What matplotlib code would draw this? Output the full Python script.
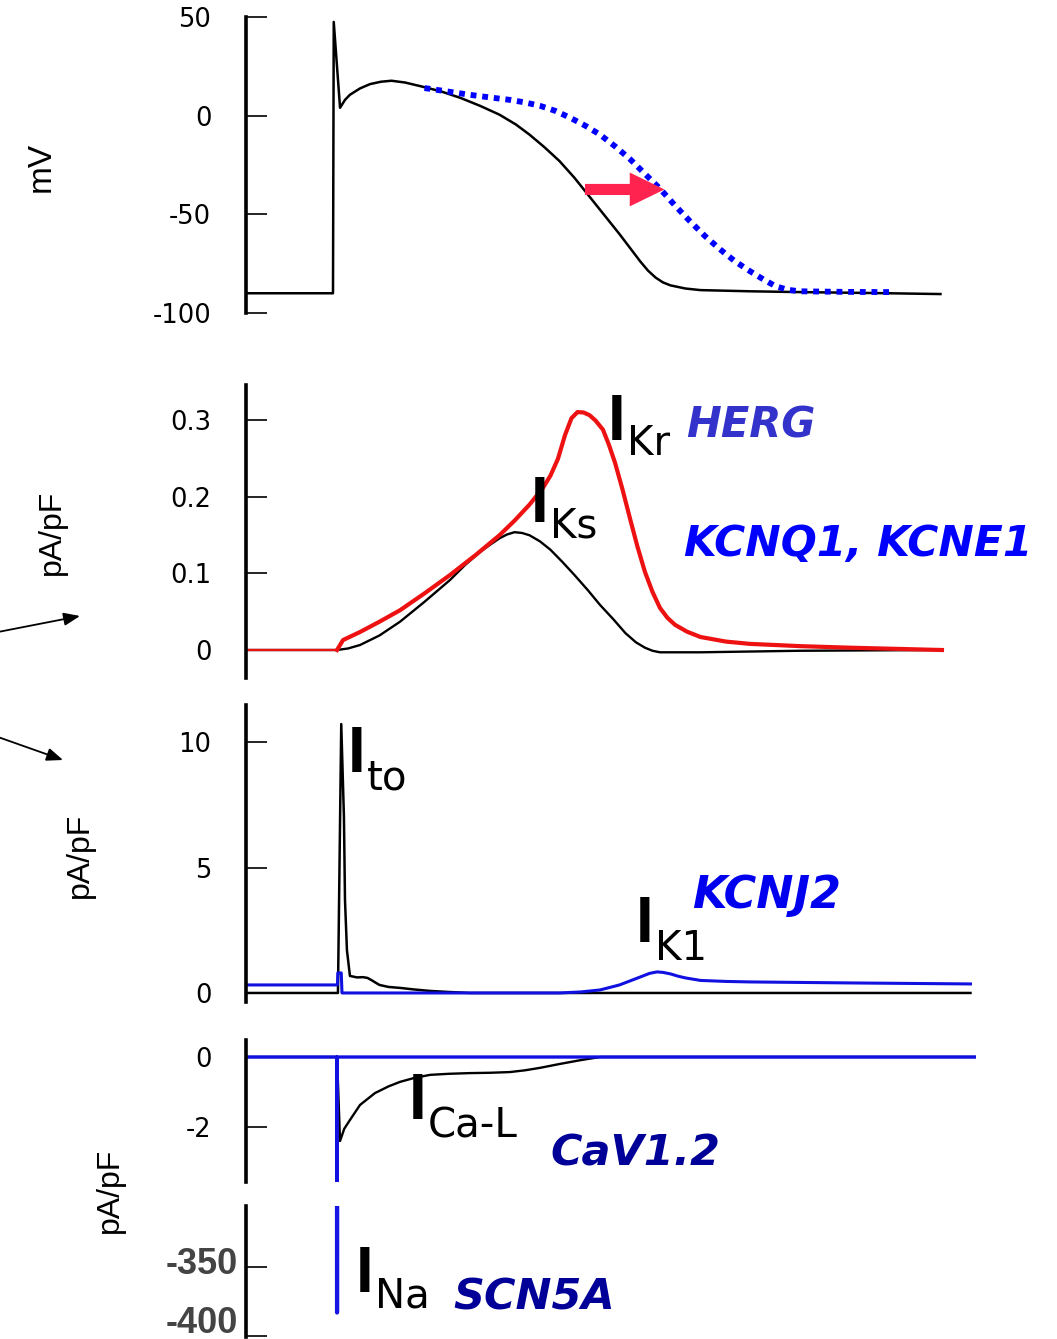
import numpy as np
import matplotlib
matplotlib.use("Agg")
import matplotlib.pyplot as plt
from matplotlib import font_manager

plt.rcParams['axes.unicode_minus'] = False

# --- data (time in ms, 0 = upstroke) ---
# action potential (mV)
ap_t = [-60, -2, -1.5, 2.7, 6, 9.3, 16, 22.7, 30, 37, 46, 56, 70, 83, 96, 109, 120, 129, 139,
        149, 159, 169, 179, 189, 196, 203, 208, 213, 218, 223, 233, 243, 276, 309, 360, 403]
ap_v = [-90, -90, 47.5, 4, 8, 10.6, 13.8, 16, 17.2, 17.7, 16.8, 15, 12.3, 9, 5, 0.5, -4.5, -9.6, -16,
        -23, -31.5, -41, -50.5, -60, -67, -74, -78.5, -82, -84.5, -86, -87.6, -88.4, -89, -89.4, -89.9, -90.4]
# prolonged action potential (dotted)
ap2_t = [59, 74, 89, 103, 116, 126, 136, 146, 156, 166, 176, 186, 196, 206, 216, 226, 236,
         246, 256, 266, 276, 285, 293, 301, 309, 340, 369]
ap2_v = [14, 12.3, 10.6, 9.2, 8, 6.7, 5, 2.5, -1, -5, -9.6, -15.5, -22, -29.5, -37, -45.5, -53.5,
         -61, -67.7, -73.8, -78.8, -83, -86.4, -88.2, -89, -89.3, -89.4]

# I_Kr and I_Ks (pA/pF)
ikr_t = [-60, 0.7, 4.7, 16, 29, 42.7, 59, 76, 93, 109, 119, 129, 138, 143, 148, 152.7, 157, 161, 165,
         169, 173, 178, 182, 186, 191, 196, 201, 206, 211, 216, 221, 226, 234, 243, 260, 276, 310, 343, 404]
ikr_v = [0, 0, 0.013, 0.0235, 0.037, 0.052, 0.074, 0.098, 0.124, 0.150, 0.169, 0.190, 0.212, 0.228,
         0.250, 0.281, 0.303, 0.311, 0.3105, 0.307, 0.300, 0.288, 0.268, 0.245, 0.210, 0.172, 0.135,
         0.102, 0.076, 0.055, 0.042, 0.033, 0.024, 0.017, 0.011, 0.008, 0.005, 0.003, 0.0]
iks_t = [-60, 0.7, 8, 16, 29, 42.7, 59, 76, 86, 96, 103, 109, 114, 119, 124, 129, 136, 143, 151,
         159, 168, 176, 185, 193, 200, 206, 211, 216, 243, 309, 403]
iks_v = [0, 0, 0.002, 0.0065, 0.019, 0.037, 0.063, 0.0915, 0.111, 0.128, 0.138, 0.146, 0.151, 0.154,
         0.153, 0.150, 0.142, 0.131, 0.115, 0.098, 0.078, 0.059, 0.040, 0.022, 0.010, 0.003, -0.001,
         -0.003, -0.003, -0.001, 0.0]

# I_to and I_K1 (pA/pF)
ito_t = [-60, 1.3, 3.5, 5.3, 6, 7.3, 9.3, 14, 18, 21, 24, 26.7, 29, 35, 43, 52, 63, 75, 89, 423]
ito_v = [0, 0, 10.72, 7.0, 3.7, 1.7, 0.68, 0.62, 0.63, 0.6, 0.5, 0.4, 0.32, 0.24, 0.2, 0.14, 0.08,
         0.04, 0, 0]
ik1_t = [-60, 1, 1.2, 3.5, 4, 149, 163, 176, 189, 196, 203, 209, 214, 218, 223, 228, 233, 243,
         260, 276, 343, 423]
ik1_v = [0.32, 0.32, 0.8, 0.8, 0, 0, 0.04, 0.12, 0.32, 0.48, 0.64, 0.78, 0.84, 0.82, 0.76, 0.67, 0.6,
         0.5, 0.46, 0.44, 0.4, 0.36]

# I_Ca-L and I_Na (pA/pF)
ical_t = [-60, 0.7, 2.7, 5.5, 9.3, 16, 26, 35, 42.7, 52, 62.7, 75, 89, 103, 116, 126, 136, 149,
          163, 176, 426]
ical_v = [0, 0, -2.4, -2.05, -1.8, -1.37, -1.03, -0.84, -0.71, -0.6, -0.51, -0.48, -0.46, -0.45,
          -0.43, -0.38, -0.31, -0.2, -0.09, 0, 0]
ina_t = [-60, 0.5, 0.7, 0.9, 427]
ina_v = [0, 0, -383, 0, 0]
ina_ticks = [-350, -400]

W, H = 1057, 1339


def fx(x):
    return x / W


def fy(y):
    return 1 - y / H


names = {f.name for f in font_manager.fontManager.ttflist}
narrow = 'Liberation Sans Narrow' if 'Liberation Sans Narrow' in names else 'Liberation Sans'

fig = plt.figure(figsize=(W / 100, H / 100), dpi=100)

left, width = fx(246), 730 / W
xlim = (-60, 426.7)
boxes = [(313, 17), (678, 385), (1002, 705), (1182, 1040), (1337, 1206)]
axes = []
for bot, top in boxes:
    ax = fig.add_axes([left, fy(bot), width, (bot - top) / H])
    ax.set_xlim(*xlim)
    for s in ['top', 'right', 'bottom']:
        ax.spines[s].set_visible(False)
    ax.spines['left'].set_linewidth(2.6)
    ax.set_xticks([])
    ax.tick_params(axis='y', direction='in', length=15, width=1.2, pad=25, labelsize=18.5)
    ax.patch.set_alpha(0)
    axes.append(ax)
ax1, ax2, ax3, ax4, ax5 = axes

# panel 1: action potential
ax1.plot(ap_t, ap_v, color='black', lw=1.8)
ax1.plot(ap2_t, ap2_v, color='#0000ff', lw=4.2, linestyle=(0, (1, 1)))
ax1.annotate('', xy=(219, -37.4), xytext=(166, -37.4),
             arrowprops=dict(arrowstyle='simple,head_length=1.25,head_width=1.22,tail_width=0.4',
                             mutation_scale=20, color='#ff2450', shrinkA=0, shrinkB=0, lw=0))
ax1.set_ylim(-100, 50)
ax1.set_yticks([50, 0, -50, -100])

# panel 2: IKr / IKs
ax2.plot(iks_t, iks_v, color='black', lw=1.7)
ax2.plot(ikr_t[:2], ikr_v[:2], color='#ee1111', lw=1.6)
ax2.plot(ikr_t[1:], ikr_v[1:], color='#ee1111', lw=3.0)
ax2.set_ylim(-0.0366, 0.3464)
ax2.set_yticks([0, 0.1, 0.2, 0.3])
ax2.set_yticklabels(['0', '0.1', '0.2', '0.3'])

# panel 3: Ito / IK1
ax3.plot(ito_t, ito_v, color='black', lw=1.8)
ax3.plot(ik1_t, ik1_v, color='#1010e0', lw=2.2)
ax3.set_ylim(-0.36, 11.48)
ax3.set_yticks([0, 5, 10])

# panel 4: ICa-L with the INa baseline
ax4.plot(ical_t, ical_v, color='black', lw=1.7)
ax4.plot(ina_t, ina_v, color='#1010e0', lw=2.4)
ax4.set_ylim(-3.571, 0.486)
ax4.set_yticks([0, -2])

# panel 5: INa peak (labels sit a bit above their ticks, like the original)
ax5.plot(ina_t, ina_v, color='#1515e5', lw=3.0)
ax5.set_ylim(-400.7, -305.8)
ax5.set_yticks(ina_ticks)
ax5.set_yticklabels(['', ''])
for val, dy in zip(ina_ticks, [3, 13]):
    ax5.annotate(str(val), xy=(0, val), xycoords=ax5.get_yaxis_transform(),
                 xytext=(-6, dy * 0.72), textcoords='offset points', ha='right', va='center',
                 fontsize=26, fontweight='bold', family='Liberation Sans', color='#444444',
                 annotation_clip=False)

# axis labels
fig.text(fx(41), fy(167), 'mV', rotation=90, ha='center', va='center', fontsize=24, family=narrow)
for x, y in [(52, 532), (80, 855), (110, 1190)]:
    fig.text(fx(x), fy(y), 'pA/pF', rotation=90, ha='center', va='center', fontsize=23, family=narrow)

# current names: big "I" with subscript
currents = [(612, 440, 455, 'Kr'), (535, 522, 538, 'Ks'), (352, 772, 790, 'to'),
            (640, 942, 960, 'K1'), (413, 1119, 1137, 'Ca-L'), (360, 1292, 1308, 'Na')]
for ix, iy, sy, sub in currents:
    fig.text(fx(ix - 4), fy(iy), 'I', fontsize=46, family='Liberation Sans', fontweight='bold',
             va='baseline', ha='left')
    fig.text(fx(ix + 15), fy(sy), sub, fontsize=29, va='baseline', ha='left')

# gene names
genes = [(686, 437, 'HERG', '#3333cc', 30), (684, 556, 'KCNQ1, KCNE1', '#0000ff', 30.5),
         (692, 908, 'KCNJ2', '#0000ee', 32), (550, 1165, 'CaV1.2', '#000099', 31),
         (453, 1310, 'SCN5A', '#000099', 31)]
for x, y, s, c, size in genes:
    fig.text(fx(x), fy(y), s, color=c, fontsize=size, fontweight='bold', style='italic',
             va='baseline', ha='left')

# arrows coming in from the left edge
for (x0, y0), (x1, y1) in [((-2, 632), (80, 616)), ((-2, 737), (63, 760))]:
    ax2.annotate('', xy=(fx(x1), fy(y1)), xytext=(fx(x0), fy(y0)), xycoords='figure fraction',
                 textcoords='figure fraction', annotation_clip=False,
                 arrowprops=dict(arrowstyle='-|>,head_length=0.7,head_width=0.28', color='black',
                                 lw=1.3, mutation_scale=14, shrinkA=0, shrinkB=0))

fig.savefig('out.png', dpi=100)
